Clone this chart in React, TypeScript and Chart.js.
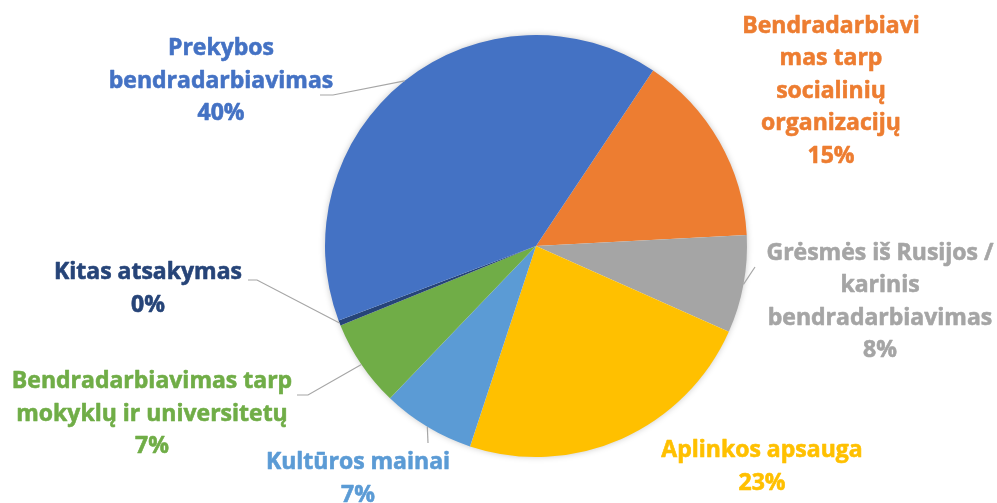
import React, { useEffect, useRef } from "react";
import { Chart, registerables } from "chart.js";

Chart.register(...registerables);

// ---- Data ----
const categories = [
  "Bendradarbiavimas tarp socialinių organizacijų",
  "Grėsmės iš Rusijos / karinis bendradarbiavimas",
  "Aplinkos apsauga",
  "Kultūros mainai",
  "Bendradarbiavimas tarp mokyklų ir universitetų",
  "Kitas atsakymas",
  "Prekybos bendradarbiavimas",
];
const labelLines = [
  ["Bendradarbiavi", "mas tarp", "socialinių", "organizacijų"],
  ["Grėsmės iš Rusijos /", "karinis", "bendradarbiavimas"],
  ["Aplinkos apsauga"],
  ["Kultūros mainai"],
  ["Bendradarbiavimas tarp", "mokyklų ir universitetų"],
  ["Kitas atsakymas"],
  ["Prekybos", "bendradarbiavimas"],
];
const shares = [14.8, 7.5, 23.4, 7.1, 6.7, 0.4, 40.1];

// ---- Styles ----
const colors = ["#ED7D31", "#A5A5A5", "#FFC000", "#5B9BD5", "#70AD47", "#264478", "#4472C4"];
const textColors = ["#ED7D31", "#A5A5A5", "#FFC000", "#5B9BD5", "#70AD47", "#264478", "#4472C4"];

// label placement relative to pie centre (px); elbow/tail relative to label centre
const labelLayout = [
  { dx: 295, dy: -155 },
  { dx: 344, dy: 56, elbow: [-125, -35] },
  { dx: 226, dy: 221 },
  { dx: -178, dy: 233, elbow: [70, -36] },
  { dx: -384, dy: 168, elbow: [156, -19], tail: [145, -19] },
  { dx: -388, dy: 43, elbow: [109, -9], tail: [100, -9] },
  { dx: -315, dy: -165, elbow: [112, 14], tail: [99, 14] },
];

const FONT = "bold 23px 'Open Sans'";
const LINE_H = 32.5;

const labelPlugin = {
  id: "pieLabels",
  beforeDatasetsDraw(chart: any) {
    const meta = chart.getDatasetMeta(0);
    const a = meta.data[0];
    if (!a) return;
    const { x, y, outerRadius } = a.getProps(["x", "y", "outerRadius"], true);
    const ctx = chart.ctx;
    ctx.save();
    ctx.shadowColor = "rgba(0,0,0,0.28)";
    ctx.shadowBlur = 7;
    ctx.fillStyle = "#ffffff";
    ctx.beginPath();
    ctx.arc(x, y, outerRadius - 1, 0, Math.PI * 2);
    ctx.fill();
    ctx.restore();
  },
  afterDatasetsDraw(chart: any) {
    const ctx = chart.ctx;
    const meta = chart.getDatasetMeta(0);
    const total = shares.reduce((s, v) => s + v, 0);
    meta.data.forEach((arc: any, i: number) => {
      const { x, y, startAngle, endAngle, outerRadius } = arc.getProps(
        ["x", "y", "startAngle", "endAngle", "outerRadius"],
        true
      );
      const mid = (startAngle + endAngle) / 2;
      const lay = labelLayout[i];
      const cx = x + lay.dx;
      const cy = y + lay.dy;
      if (lay.elbow) {
        ctx.save();
        ctx.strokeStyle = "#A6A6A6";
        ctx.lineWidth = 1.2;
        ctx.beginPath();
        ctx.moveTo(x + Math.cos(mid) * outerRadius, y + Math.sin(mid) * outerRadius);
        ctx.lineTo(cx + lay.elbow[0], cy + lay.elbow[1]);
        if (lay.tail) ctx.lineTo(cx + lay.tail[0], cy + lay.tail[1]);
        ctx.stroke();
        ctx.restore();
      }
      const pct = Math.round((shares[i] / total) * 100) + "%";
      const lines = [...labelLines[i], pct];
      ctx.save();
      ctx.font = FONT;
      ctx.fillStyle = textColors[i];
      ctx.strokeStyle = textColors[i];
      ctx.lineWidth = 0.6;
      ctx.lineJoin = "round";
      ctx.textAlign = "center";
      ctx.textBaseline = "middle";
      const y0 = cy - ((lines.length - 1) * LINE_H) / 2;
      lines.forEach((t, k) => {
        ctx.fillText(t, cx, y0 + k * LINE_H);
        ctx.strokeText(t, cx, y0 + k * LINE_H);
      });
      ctx.restore();
    });
  },
};

export default function App() {
  const ref = useRef<HTMLCanvasElement | null>(null);
  useEffect(() => {
    if (!ref.current) return;
    const chart = new Chart(ref.current, {
      type: "pie",
      data: {
        labels: categories,
        datasets: [
          {
            data: shares,
            backgroundColor: colors,
            borderWidth: 0,
            hoverOffset: 0,
          },
        ],
      },
      options: {
        animation: false,
        responsive: true,
        maintainAspectRatio: false,
        rotation: 33.7,
        layout: { padding: { top: 35, bottom: 46, left: 325, right: 250 } },
        plugins: {
          legend: { display: false },
          tooltip: { enabled: false },
        },
      },
      plugins: [labelPlugin],
    });
    return () => chart.destroy();
  }, []);
  return (
    <div style={{ position: "absolute", left: 0, top: 0, width: 997, height: 503, background: "#fff" }}>
      <canvas ref={ref} />
    </div>
  );
}
